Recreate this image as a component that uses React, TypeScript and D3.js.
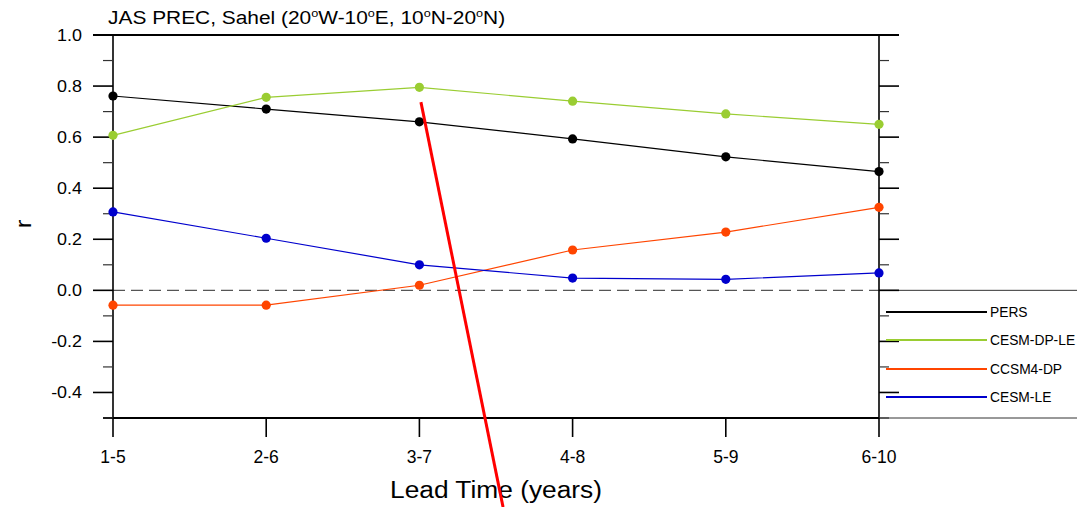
import React from "react";
import * as d3 from "d3";

// Lead-time windows (years)
const leadTimes = ["1-5", "2-6", "3-7", "4-8", "5-9", "6-10"];

// Correlation skill (r) per forecast system
const persValues = [0.761, 0.71, 0.66, 0.593, 0.523, 0.465];
const cesmDpLeValues = [0.607, 0.756, 0.795, 0.741, 0.691, 0.65];
const ccsm4DpValues = [-0.058, -0.058, 0.02, 0.158, 0.228, 0.325];
const cesmLeValues = [0.307, 0.204, 0.1, 0.048, 0.043, 0.068];

const seriesNames = ["PERS", "CESM-DP-LE", "CCSM4-DP", "CESM-LE"];
const seriesColors = ["#000000", "#9acd32", "#ff4500", "#0000cd"];

const yMajorTicks = [1.0, 0.8, 0.6, 0.4, 0.2, 0.0, -0.2, -0.4];
const yMinorTicks = [0.9, 0.7, 0.5, 0.3, 0.1, -0.1, -0.3, -0.5];

// Hand-drawn red stroke, endpoints in data units (lead index, r)
const strokeIdx = [2.01, 2.546];
const strokeR = [0.737, -0.849];

const W = 1077;
const H = 507;
const left = 113;
const right = 879;
const top = 35;
const bottom = 418;
const font = "'Liberation Sans', Arial, Helvetica, sans-serif";

// Text with an optional horizontal stretch, like the plotting package's stroke font
function Wide({
  x,
  y,
  size,
  sx = 1.12,
  anchor = "start",
  children,
}: {
  x: number;
  y: number;
  size: number;
  sx?: number;
  anchor?: string;
  children: React.ReactNode;
}) {
  return (
    <text
      transform={`translate(${x},${y}) scale(${sx},1)`}
      fontSize={size}
      textAnchor={anchor as any}
      fill="#000"
    >
      {children}
    </text>
  );
}

export default function App() {
  const x = d3.scaleLinear().domain([0, leadTimes.length - 1]).range([left, right]);
  const y = d3.scaleLinear().domain([-0.5, 1.0]).range([bottom, top]);
  const line = d3
    .line<number>()
    .x((_, i) => x(i))
    .y((d) => y(d));

  const all = [persValues, cesmDpLeValues, ccsm4DpValues, cesmLeValues];
  const legendY = [312, 340, 369, 397];

  return (
    <svg
      width={W}
      height={H}
      style={{ position: "absolute", left: 0, top: 0, background: "#fff" }}
      fontFamily={font}
    >
      {/* title */}
      <Wide x={108} y={24} size={19} sx={1.1}>
        JAS PREC, Sahel (20
        <tspan fontSize={11.5} dy={-7.5}>o</tspan>
        <tspan dy={7.5}>W-10</tspan>
        <tspan fontSize={11.5} dy={-7.5}>o</tspan>
        <tspan dy={7.5}>E, 10</tspan>
        <tspan fontSize={11.5} dy={-7.5}>o</tspan>
        <tspan dy={7.5}>N-20</tspan>
        <tspan fontSize={11.5} dy={-7.5}>o</tspan>
        <tspan dy={7.5}>N)</tspan>
      </Wide>

      {/* zero reference line */}
      <line x1={left} x2={right} y1={y(0)} y2={y(0)} stroke="#555" strokeWidth={1.2} strokeDasharray="12,6" />

      {/* legend box edges */}
      <line x1={right} x2={W} y1={y(0)} y2={y(0)} stroke="#333" strokeWidth={1} />
      <line x1={right} x2={W} y1={bottom} y2={bottom} stroke="#333" strokeWidth={1} />

      {/* frame */}
      <line x1={93} x2={899} y1={top} y2={top} stroke="#000" strokeWidth={2} />
      <line x1={103} x2={right} y1={bottom} y2={bottom} stroke="#000" strokeWidth={2} />
      <line x1={left} x2={left} y1={top} y2={bottom} stroke="#000" strokeWidth={1.6} />
      <line x1={right} x2={right} y1={top} y2={bottom} stroke="#000" strokeWidth={1.6} />

      {/* y ticks */}
      {yMajorTicks.map((t) => (
        <g key={"M" + t}>
          <line x1={93} x2={left} y1={y(t)} y2={y(t)} stroke="#000" strokeWidth={1.6} />
          <line x1={right} x2={899} y1={y(t)} y2={y(t)} stroke="#000" strokeWidth={1.6} />
          <Wide x={82} y={y(t) + 5.8} size={16} anchor="end">
            {t.toFixed(1)}
          </Wide>
        </g>
      ))}
      {yMinorTicks.map((t) => (
        <g key={"m" + t}>
          <line x1={103} x2={left} y1={y(t)} y2={y(t)} stroke="#333" strokeWidth={1.2} />
          <line x1={right} x2={889} y1={y(t)} y2={y(t)} stroke="#333" strokeWidth={1.2} />
        </g>
      ))}

      {/* x ticks */}
      {leadTimes.map((lt, i) => (
        <g key={lt}>
          <line x1={x(i)} x2={x(i)} y1={bottom} y2={437} stroke="#000" strokeWidth={1.6} />
          <Wide x={x(i)} y={463} size={17.5} sx={1} anchor="middle">
            {lt}
          </Wide>
        </g>
      ))}

      {/* axis titles */}
      <Wide x={(left + right) / 2} y={498} size={23.5} anchor="middle">
        Lead Time (years)
      </Wide>
      <text transform="translate(31,224) rotate(-90) scale(1.12,1)" fontSize={23} textAnchor="middle" fill="#000">
        r
      </text>

      {/* series */}
      {all.map((vals, s) => (
        <g key={seriesNames[s]}>
          <path d={line(vals) || ""} fill="none" stroke={seriesColors[s]} strokeWidth={1.2} />
          {vals.map((v, i) => (
            <circle key={i} cx={x(i)} cy={y(v)} r={4.6} fill={seriesColors[s]} />
          ))}
        </g>
      ))}

      {/* legend */}
      {seriesNames.map((n, s) => (
        <g key={"leg" + n}>
          <line x1={886} x2={987} y1={legendY[s]} y2={legendY[s]} stroke={seriesColors[s]} strokeWidth={2.2} />
          <text x={990} y={legendY[s] + 5} fontSize={13.8} fill="#000">
            {n}
          </text>
        </g>
      ))}

      {/* red stroke */}
      <line
        x1={x(strokeIdx[0])}
        y1={y(strokeR[0])}
        x2={x(strokeIdx[1])}
        y2={y(strokeR[1])}
        stroke="#ff0000"
        strokeWidth={3}
      />
    </svg>
  );
}
